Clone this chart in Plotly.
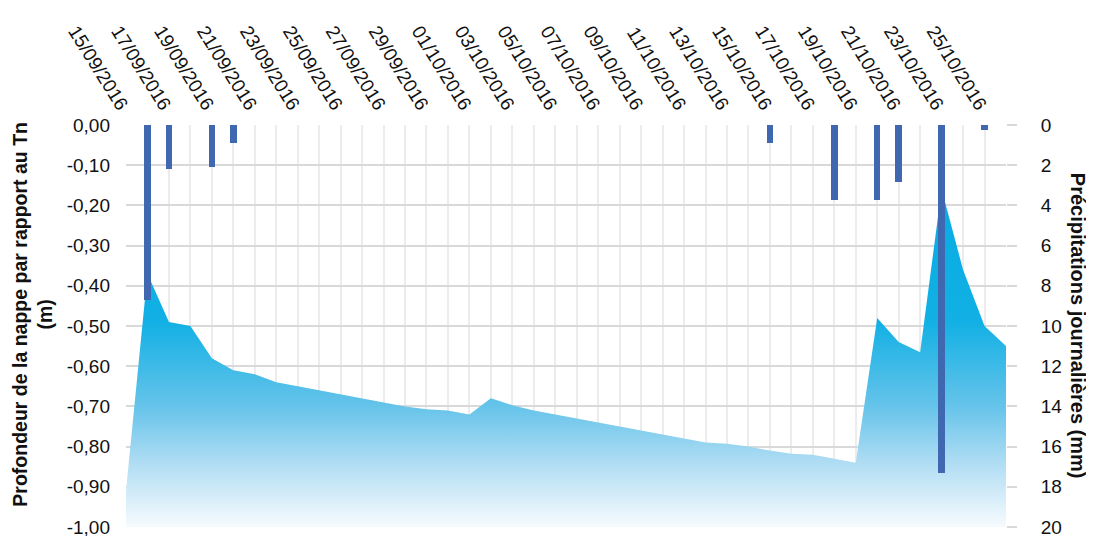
import pandas as pd
import plotly.graph_objects as go

# one value per day, 15/09/2016 -> 26/10/2016
dates = pd.date_range("2016-09-15", "2016-10-26", freq="D")

# water table depth relative to ground level (m)
profondeur = [-0.91, -0.37, -0.49, -0.50, -0.58, -0.61, -0.62, -0.64, -0.65, -0.66,
              -0.67, -0.68, -0.69, -0.70, -0.707, -0.71, -0.72, -0.68, -0.697, -0.71,
              -0.72, -0.73, -0.74, -0.75, -0.76, -0.77, -0.78, -0.79, -0.793, -0.80,
              -0.81, -0.818, -0.82, -0.83, -0.84, -0.48, -0.54, -0.565, -0.16, -0.36,
              -0.50, -0.55]

# daily rainfall (mm)
pluie = [0, 8.7, 2.2, 0, 2.1, 0.9, 0, 0, 0, 0,
         0, 0, 0, 0, 0, 0, 0, 0, 0, 0,
         0, 0, 0, 0, 0, 0, 0, 0, 0, 0,
         0.9, 0, 0, 3.75, 0, 3.75, 2.85, 0, 17.3, 0,
         0.25, 0]

y_ticks = [0, -0.1, -0.2, -0.3, -0.4, -0.5, -0.6, -0.7, -0.8, -0.9, -1.0]
y_labels = ["0,00", "-0,10", "-0,20", "-0,30", "-0,40", "-0,50",
            "-0,60", "-0,70", "-0,80", "-0,90", "-1,00"]

FONT = "Liberation Sans, Arial, sans-serif"
DAY = 86400000

fig = go.Figure()

# invisible floor for the area fill
fig.add_trace(go.Scatter(x=dates, y=[-1.0] * len(dates), mode="lines",
                         line=dict(width=0), hoverinfo="skip", showlegend=False))
fig.add_trace(go.Scatter(
    x=dates, y=profondeur, mode="lines", line=dict(width=0), fill="tonexty",
    fillgradient=dict(type="vertical", start=-1.0, stop=-0.15,
                      colorscale=[[0, "#f6fbfe"], [0.18, "#b3def4"], [0.35, "#67c4ea"],
                                  [0.6, "#12b0e4"], [1, "#06ace3"]]),
    hoverinfo="skip", showlegend=False))

fig.add_trace(go.Bar(x=dates, y=pluie, yaxis="y2", width=0.3 * DAY,
                     marker=dict(color="#4068b0", line=dict(width=0)),
                     hoverinfo="skip", showlegend=False))

# the page body has an 8px margin, so the margins below are shifted by 8px
fig.update_layout(
    width=1094, height=536,
    margin=dict(l=118, r=96, t=117, b=17),
    paper_bgcolor="white", plot_bgcolor="white",
    font=dict(family=FONT, size=19, color="#111111"),
    bargap=0,
    xaxis=dict(
        type="date", side="top", range=[dates[0], dates[-1]],
        tick0=dates[0], dtick=2 * DAY, tickformat="%d/%m/%Y", tickangle=58,
        showgrid=True, gridcolor="#ececec", gridwidth=1.5,
        minor=dict(dtick=DAY, showgrid=True, gridcolor="#ececec", gridwidth=1.5),
        ticks="", zeroline=False, showline=False, ticklabelstandoff=4,
        tickfont=dict(size=19), automargin=False,
    ),
    yaxis=dict(
        range=[-1.0, 0.0], tickvals=y_ticks, ticktext=y_labels,
        showgrid=True, gridcolor="#d9d9d9", gridwidth=1.5,
        zeroline=False, showline=False, ticks="", ticklabelstandoff=15,
        tickfont=dict(size=19), automargin=False,
    ),
    yaxis2=dict(
        overlaying="y", side="right", range=[20, 0], dtick=2,
        showgrid=False, zeroline=False, showline=False,
        ticks="outside", ticklen=10, tickcolor="#d9d9d9", tickwidth=1.5,
        ticklabelstandoff=20, tickfont=dict(size=19), automargin=False,
    ),
    annotations=[
        dict(text="<b>Profondeur de la nappe par rapport au Tn<br>(m)</b>",
             xref="paper", yref="paper", x=-0.106, y=0.53, textangle=-90,
             showarrow=False, xanchor="center", yanchor="middle",
             font=dict(size=19.5, family=FONT, color="#111111")),
        dict(text="<b>Précipitations journalières (mm)</b>",
             xref="paper", yref="paper", x=1.082, y=0.5, textangle=90,
             showarrow=False, xanchor="center", yanchor="middle",
             font=dict(size=20, family=FONT, color="#111111")),
    ],
)

fig.write_html("out.html")
